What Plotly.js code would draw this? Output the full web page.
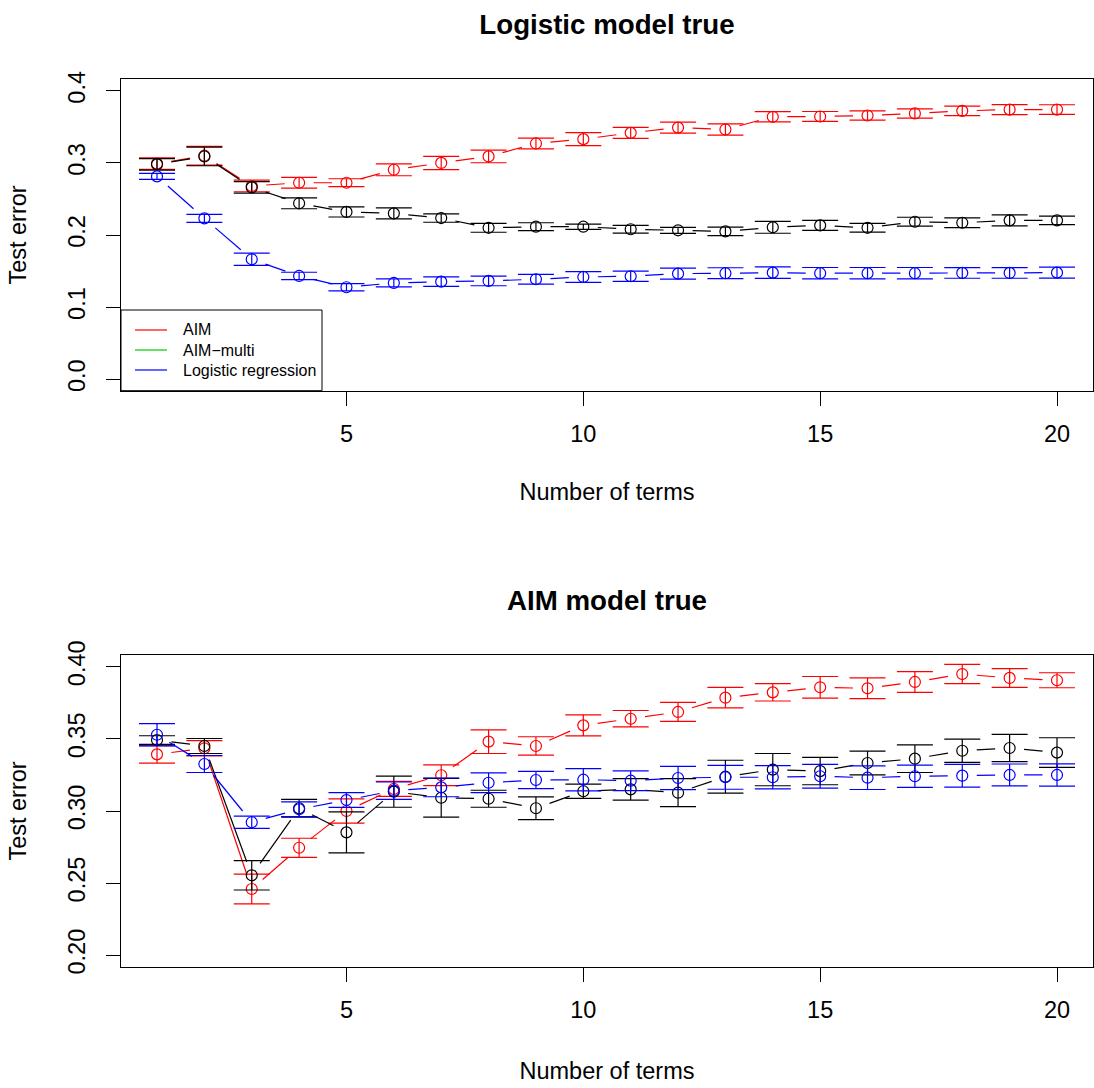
<!DOCTYPE html>
<html>
<head>
<meta charset="utf-8">
<script src="https://cdn.plot.ly/plotly-3.0.1.min.js"></script>
<style>
  html, body { margin: 0; padding: 0; background: #ffffff; }
  #chart { width: 1094px; height: 1088px; }
</style>
</head>
<body>
<div id="chart"></div>
<script>
// Number of terms in the fitted model
const terms = [1, 2, 3, 4, 5, 6, 7, 8, 9, 10, 11, 12, 13, 14, 15, 16, 17, 18, 19, 20];

// Panel 1: logistic model true — mean test error and standard error
const aimLogistic      = [0.299, 0.310, 0.268, 0.2725, 0.2725, 0.2905, 0.300, 0.309, 0.327, 0.333, 0.3417, 0.349, 0.3464, 0.364, 0.3644, 0.3658, 0.3686, 0.3722, 0.374, 0.374];
const aimLogisticSE    = [0.008, 0.013, 0.008, 0.0074, 0.0055, 0.0083, 0.0092, 0.0088, 0.0074, 0.009, 0.0076, 0.0076, 0.0079, 0.0072, 0.0069, 0.0065, 0.0065, 0.0065, 0.0069, 0.0067];
const multiLogistic    = [0.298, 0.309, 0.266, 0.244, 0.232, 0.230, 0.2235, 0.210, 0.2115, 0.2115, 0.208, 0.2065, 0.205, 0.2107, 0.2134, 0.210, 0.2184, 0.217, 0.2203, 0.2203];
const multiLogisticSE  = [0.0079, 0.0129, 0.008, 0.0076, 0.007, 0.0076, 0.0058, 0.0062, 0.0055, 0.0037, 0.0053, 0.0042, 0.0058, 0.0083, 0.007, 0.006, 0.0062, 0.0067, 0.0076, 0.0058];
const glmLogistic      = [0.2813, 0.2231, 0.1663, 0.1432, 0.1275, 0.1335, 0.1353, 0.1363, 0.1386, 0.1418, 0.1428, 0.1464, 0.147, 0.1478, 0.147, 0.147, 0.147, 0.1474, 0.1474, 0.1478];
const glmLogisticSE    = [0.0042, 0.0055, 0.0085, 0.0051, 0.0051, 0.0055, 0.0067, 0.0067, 0.0067, 0.0074, 0.0072, 0.0076, 0.0076, 0.008, 0.0079, 0.0079, 0.0079, 0.0074, 0.0074, 0.0076];

// Panel 2: AIM model true
const aimAim           = [0.3393, 0.3435, 0.2459, 0.2745, 0.300, 0.3153, 0.3248, 0.3481, 0.3451, 0.3594, 0.364, 0.3687, 0.3786, 0.3823, 0.3858, 0.3851, 0.3895, 0.395, 0.3923, 0.3907];
const aimAimSE         = [0.0061, 0.0053, 0.0103, 0.0066, 0.0084, 0.0052, 0.0072, 0.0082, 0.0064, 0.0073, 0.0057, 0.0066, 0.0071, 0.006, 0.0075, 0.0072, 0.0072, 0.0067, 0.0065, 0.0052];
const multiAim         = [0.3492, 0.3451, 0.2554, 0.3019, 0.2852, 0.3134, 0.3092, 0.3085, 0.3019, 0.3137, 0.3150, 0.3127, 0.3238, 0.3287, 0.3277, 0.3333, 0.3363, 0.3418, 0.3437, 0.3405];
const multiAimSE       = [0.003, 0.0052, 0.0102, 0.0062, 0.0142, 0.0108, 0.0134, 0.0059, 0.0079, 0.0049, 0.0074, 0.0097, 0.0114, 0.0112, 0.0095, 0.0082, 0.0096, 0.0081, 0.0094, 0.0103];
const glmAim           = [0.3529, 0.3326, 0.2922, 0.3012, 0.3076, 0.3141, 0.3164, 0.3196, 0.3215, 0.3217, 0.3210, 0.3229, 0.3234, 0.3234, 0.3241, 0.3231, 0.3241, 0.3245, 0.325, 0.325];
const glmAimSE         = [0.0077, 0.0059, 0.0042, 0.0051, 0.0051, 0.006, 0.0065, 0.0068, 0.006, 0.0077, 0.0069, 0.0081, 0.0083, 0.0081, 0.0083, 0.0082, 0.0077, 0.0079, 0.0076, 0.0077];

// Axis ticks and legend labels
const xTicks = [5, 10, 15, 20];
const yTicksTop = [0.0, 0.1, 0.2, 0.3, 0.4];
const yTicksBottom = [0.20, 0.25, 0.30, 0.35, 0.40];
const legendNames = ['AIM', 'AIM\u2212multi', 'Logistic regression'];
const legendColors = ['#ff0000', '#00cd00', '#0000ff'];

// ---- page geometry ----
const W = 1094, H = 1088;
const FONT = 'Liberation Sans, Arial, Helvetica, sans-serif';
const AXIS_FONT = 23.5;
const xDomain = [121 / W, 1093 / W];
const xRange = [0.24, 20.76];
const yDomainTop = [1 - 390.7 / H, 1 - 79.3 / H];
const yRangeTop = [-0.016, 0.416];
const yDomainBottom = [1 - 966.7 / H, 1 - 655.3 / H];
const yRangeBottom = [0.192, 0.408];

const pxPerX = (xDomain[1] - xDomain[0]) * W / (xRange[1] - xRange[0]);
const pxPerYTop = (yDomainTop[1] - yDomainTop[0]) * H / (yRangeTop[1] - yRangeTop[0]);
const pxPerYBottom = (yDomainBottom[1] - yDomainBottom[0]) * H / (yRangeBottom[1] - yRangeBottom[0]);

// Connecting segments in the style of type = "b": each segment stops short
// of the points it joins, leaving a fixed pixel gap around every symbol.
function brokenPath(xs, ys, pxY, gap) {
  const px = [], py = [];
  for (let i = 0; i < xs.length - 1; i++) {
    const dx = xs[i + 1] - xs[i], dy = ys[i + 1] - ys[i];
    const len = Math.hypot(dx * pxPerX, dy * pxY);
    if (len <= 2 * gap) continue;
    const t = gap / len;
    px.push(xs[i] + t * dx, xs[i + 1] - t * dx, null);
    py.push(ys[i] + t * dy, ys[i + 1] - t * dy, null);
  }
  return { x: px, y: py };
}

const GAP = 14.5;
const traces = [];

function addSeries(ys, se, color, yaxis, pxY) {
  const xaxis = yaxis === 'y' ? 'x' : 'x2';
  const path = brokenPath(terms, ys, pxY, GAP);
  traces.push({
    x: path.x, y: path.y, xaxis: xaxis, yaxis: yaxis,
    mode: 'lines', line: { color: color, width: 1.2 },
    showlegend: false, hoverinfo: 'skip', connectgaps: false
  });
  traces.push({
    x: terms, y: ys, xaxis: xaxis, yaxis: yaxis,
    mode: 'markers',
    marker: { symbol: 'circle-open', size: 11, color: color, line: { width: 1.2, color: color } },
    error_y: { type: 'data', array: se, visible: true, color: color, thickness: 1.2, width: 18 },
    showlegend: false
  });
}

addSeries(aimLogistic, aimLogisticSE, '#ff0000', 'y', pxPerYTop);
addSeries(multiLogistic, multiLogisticSE, '#000000', 'y', pxPerYTop);
addSeries(glmLogistic, glmLogisticSE, '#0000ff', 'y', pxPerYTop);

addSeries(aimAim, aimAimSE, '#ff0000', 'y2', pxPerYBottom);
addSeries(multiAim, multiAimSE, '#000000', 'y2', pxPerYBottom);
addSeries(glmAim, glmAimSE, '#0000ff', 'y2', pxPerYBottom);

// Legend box in the lower-left corner of the first panel (pixel layout)
const LEG = { left: 121, right: 322, top: 310, bottom: 390.7, lineX0: 135, lineX1: 167, textX: 181, row0: 330, rowStep: 20 };
const px2x = v => v / W;
const px2y = v => 1 - v / H;
const shapes = [{
  type: 'rect', xref: 'paper', yref: 'paper',
  x0: px2x(LEG.left), x1: px2x(LEG.right), y0: px2y(LEG.bottom), y1: px2y(LEG.top),
  line: { color: '#000000', width: 1 }, fillcolor: '#ffffff', layer: 'above'
}];
const annotations = [];
legendNames.forEach((name, i) => {
  const rowY = LEG.row0 + i * LEG.rowStep;
  shapes.push({
    type: 'line', xref: 'paper', yref: 'paper',
    x0: px2x(LEG.lineX0), x1: px2x(LEG.lineX1), y0: px2y(rowY), y1: px2y(rowY),
    line: { color: legendColors[i], width: 1.2 }, layer: 'above'
  });
  annotations.push({
    text: name, xref: 'paper', yref: 'paper', x: px2x(LEG.textX), y: px2y(rowY),
    xanchor: 'left', yanchor: 'middle', showarrow: false,
    font: { family: FONT, size: 16, color: '#000000' }
  });
});

annotations.push({
  text: 'AIM model true', xref: 'paper', yref: 'paper',
  x: (xDomain[0] + xDomain[1]) / 2, y: px2y(600), xanchor: 'center', yanchor: 'middle',
  showarrow: false, font: { family: FONT, size: 27.7, weight: 700, color: '#000000' }
});

const axisCommon = {
  showline: true, linecolor: '#000000', linewidth: 1, mirror: true,
  ticks: 'outside', ticklen: 14, tickwidth: 1, tickcolor: '#000000',
  showgrid: false, zeroline: false,
  tickfont: { family: FONT, size: AXIS_FONT, color: '#000000' }
};

const layout = {
  width: W, height: H,
  margin: { l: 0, r: 0, t: 0, b: 0, pad: 0 },
  paper_bgcolor: '#ffffff', plot_bgcolor: '#ffffff',
  font: { family: FONT, color: '#000000' },
  showlegend: false,
  title: {
    text: 'Logistic model true',
    font: { family: FONT, size: 27.7, weight: 700, color: '#000000' },
    x: (xDomain[0] + xDomain[1]) / 2, xanchor: 'center',
    y: px2y(24), yanchor: 'middle', xref: 'paper', yref: 'paper'
  },
  xaxis: Object.assign({}, axisCommon, {
    domain: xDomain, range: xRange, anchor: 'y', tickvals: xTicks,
    ticklabelstandoff: 8,
    title: { text: 'Number of terms', font: { family: FONT, size: AXIS_FONT }, standoff: 37 }
  }),
  yaxis: Object.assign({}, axisCommon, {
    domain: yDomainTop, range: yRangeTop, anchor: 'x', tickvals: yTicksTop,
    tickformat: '.1f', tickangle: -90, ticklabelstandoff: 12,
    title: { text: 'Test error', font: { family: FONT, size: AXIS_FONT }, standoff: 30 }
  }),
  xaxis2: Object.assign({}, axisCommon, {
    domain: xDomain, range: xRange, anchor: 'y2', tickvals: xTicks,
    ticklabelstandoff: 8,
    title: { text: 'Number of terms', font: { family: FONT, size: AXIS_FONT }, standoff: 40 }
  }),
  yaxis2: Object.assign({}, axisCommon, {
    domain: yDomainBottom, range: yRangeBottom, anchor: 'x2', tickvals: yTicksBottom,
    tickformat: '.2f', tickangle: -90, ticklabelstandoff: 12,
    title: { text: 'Test error', font: { family: FONT, size: AXIS_FONT }, standoff: 30 }
  }),
  shapes: shapes,
  annotations: annotations
};

Plotly.newPlot('chart', traces, layout, { staticPlot: true, displayModeBar: false });
</script>
</body>
</html>
